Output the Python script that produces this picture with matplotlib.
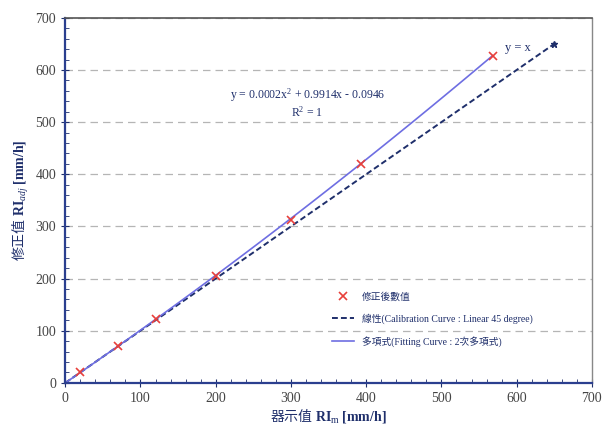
import matplotlib
matplotlib.use("Agg")
import matplotlib.pyplot as plt
import numpy as np
from matplotlib.ticker import MultipleLocator

plt.rcParams["font.family"] = ["Liberation Serif", "Noto Sans CJK TC", "DejaVu Sans"]
plt.rcParams["mathtext.fontset"] = "custom"
plt.rcParams["mathtext.rm"] = "Liberation Serif"
plt.rcParams["mathtext.it"] = "Liberation Serif:italic"
plt.rcParams["mathtext.bf"] = "Liberation Serif:bold"
plt.rcParams["mathtext.sf"] = "Noto Sans CJK TC:bold"

# measured points (display value vs corrected value)
obs_x = [20, 70, 120, 200, 300, 393, 568]
obs_y = [20, 70, 122, 204, 313, 420, 627]

# 45-degree calibration line end points
calib_x = [0, 650]
calib_y = [0, 650]

# trendline coefficients shown on the chart (a x^2 + b x + c)
fit_coef = [0.0002, 0.9914, -0.0946]
fit_range = [0, 568]

x_ticks = [0, 100, 200, 300, 400, 500, 600, 700]
y_ticks = [0, 100, 200, 300, 400, 500, 600, 700]

navy = "#1f2f6b"
fit_color = "#6e6ee2"
red = "#e8403a"

fig = plt.figure(figsize=(6.04, 4.24), dpi=100)
ax = fig.add_axes([0.108, 0.097, 0.872, 0.861])

fx = np.linspace(fit_range[0], fit_range[1], 100)
fy = np.polyval(fit_coef, fx)

ax.plot(calib_x, calib_y, color=navy, linestyle=(0, (3, 1.6)), linewidth=1.4,
        label="線性(Calibration Curve : Linear 45 degree)")
ax.plot(calib_x[-1:], calib_y[-1:], marker="*", color=navy, markersize=5, linestyle="none")
ax.plot(fx, fy, color=fit_color, linewidth=1.2, label="多項式(Fitting Curve : 2次多項式)")
ax.plot(obs_x, obs_y, linestyle="none", marker="x", color=red, markersize=6,
        markeredgewidth=1.2, label="修正後數值")

ax.set_xlim(0, 700)
ax.set_ylim(0, 700)
ax.set_xticks(x_ticks)
ax.set_yticks(y_ticks)
ax.xaxis.set_minor_locator(MultipleLocator(20))
ax.yaxis.set_minor_locator(MultipleLocator(20))
ax.tick_params(which="major", direction="inout", length=6, color=navy, labelsize=10,
               labelcolor="#444444")
ax.tick_params(which="minor", direction="in", length=3, color=navy)
ax.tick_params(top=False, right=False, which="both")

ax.yaxis.grid(True, linestyle=(0, (6, 4)), color="#b5b5b5", linewidth=0.9)
ax.set_axisbelow(True)

for side in ("left", "bottom"):
    ax.spines[side].set_color("#2b3f8f")
    ax.spines[side].set_linewidth(1.6)
ax.spines["top"].set_color("#555555")
ax.spines["top"].set_linewidth(1.2)
ax.spines["right"].set_color("#888888")
ax.spines["right"].set_linewidth(1.0)

ax.set_xlabel(r"$\mathsf{器示值}\ \mathbf{RI}_{\mathrm{m}}\ \mathbf{[mm/h]}$",
              fontsize=10, color=navy, labelpad=1)
ax.set_ylabel(r"$\mathsf{修正值}\ \mathbf{RI}_{adj}\ \mathbf{[mm/h]}$",
              fontsize=10, color=navy, labelpad=3)

ax.text(322, 552, "y = 0.0002x$^2$ + 0.9914x - 0.0946", ha="center", va="center",
        fontsize=8.5, color=navy)
ax.text(322, 518, "R$^2$ = 1", ha="center", va="center", fontsize=8.5, color=navy)
ax.text(584, 643, "y = x", ha="left", va="center", fontsize=9, color=navy)

handles, labels = ax.get_legend_handles_labels()
order = [2, 0, 1]
leg = ax.legend([handles[i] for i in order], [labels[i] for i in order],
                loc="upper left", bbox_to_anchor=(0.5, 0.26), frameon=False,
                fontsize=7, handlelength=2.2, labelspacing=1.25, borderaxespad=0)
for t in leg.get_texts():
    t.set_color(navy)

fig.savefig("out.png", dpi=100)
